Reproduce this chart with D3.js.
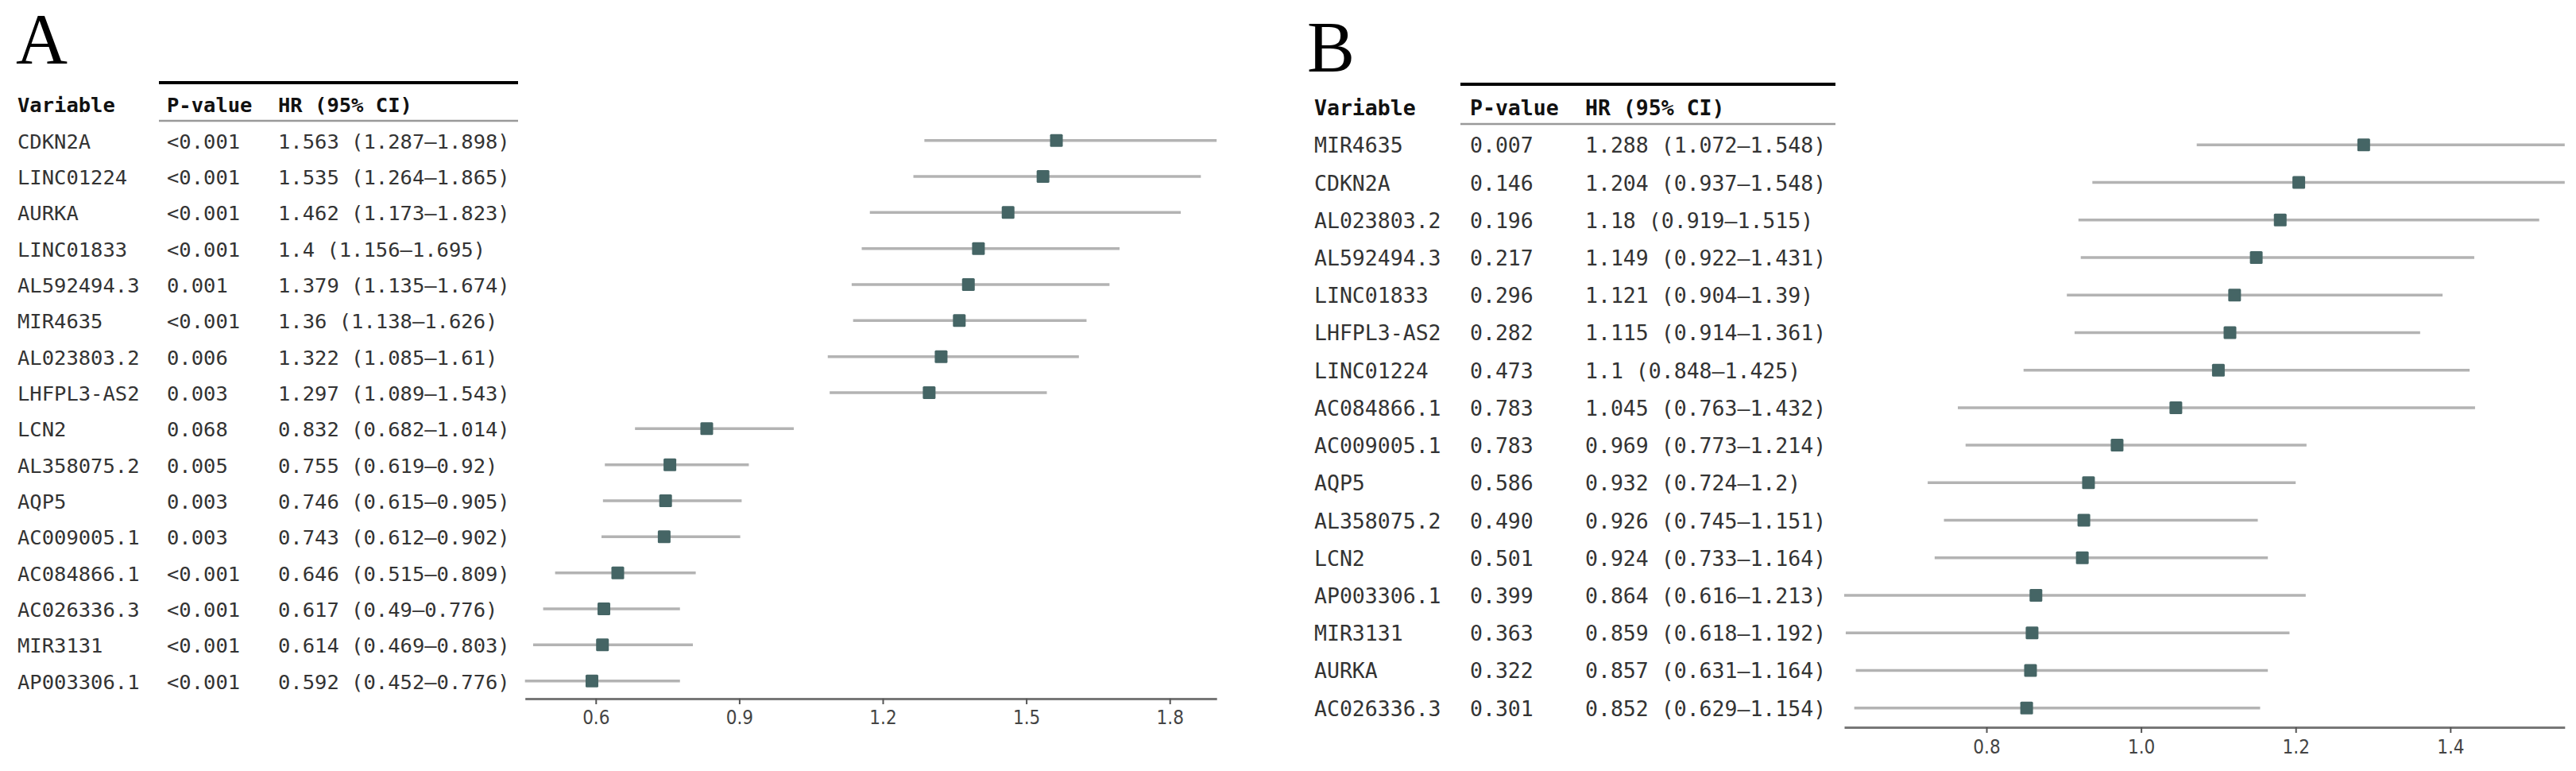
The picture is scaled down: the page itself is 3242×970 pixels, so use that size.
<!DOCTYPE html>
<html>
<head>
<meta charset="utf-8">
<script src="https://cdn.jsdelivr.net/npm/d3@7"></script>
<style>
  body { margin: 0; background: #fff; }
  svg { display: block; }
</style>
</head>
<body>
<div id="chart"></div>
<script>
// panel A data
const varsA = ["CDKN2A", "LINC01224", "AURKA", "LINC01833", "AL592494.3", "MIR4635", "AL023803.2", "LHFPL3-AS2",
  "LCN2", "AL358075.2", "AQP5", "AC009005.1", "AC084866.1", "AC026336.3", "MIR3131", "AP003306.1"];
const pA = ["<0.001", "<0.001", "<0.001", "<0.001", "0.001", "<0.001", "0.006", "0.003",
  "0.068", "0.005", "0.003", "0.003", "<0.001", "<0.001", "<0.001", "<0.001"];
const hrA = [1.563, 1.535, 1.462, 1.4, 1.379, 1.36, 1.322, 1.297, 0.832, 0.755, 0.746, 0.743, 0.646, 0.617, 0.614, 0.592];
const loA = [1.287, 1.264, 1.173, 1.156, 1.135, 1.138, 1.085, 1.089, 0.682, 0.619, 0.615, 0.612, 0.515, 0.49, 0.469, 0.452];
const hiA = [1.898, 1.865, 1.823, 1.695, 1.674, 1.626, 1.61, 1.543, 1.014, 0.92, 0.905, 0.902, 0.809, 0.776, 0.803, 0.776];
const ticksA = [0.6, 0.9, 1.2, 1.5, 1.8];

// panel B data
const varsB = ["MIR4635", "CDKN2A", "AL023803.2", "AL592494.3", "LINC01833", "LHFPL3-AS2", "LINC01224", "AC084866.1",
  "AC009005.1", "AQP5", "AL358075.2", "LCN2", "AP003306.1", "MIR3131", "AURKA", "AC026336.3"];
const pB = ["0.007", "0.146", "0.196", "0.217", "0.296", "0.282", "0.473", "0.783",
  "0.783", "0.586", "0.490", "0.501", "0.399", "0.363", "0.322", "0.301"];
const hrB = [1.288, 1.204, 1.18, 1.149, 1.121, 1.115, 1.1, 1.045, 0.969, 0.932, 0.926, 0.924, 0.864, 0.859, 0.857, 0.852];
const loB = [1.072, 0.937, 0.919, 0.922, 0.904, 0.914, 0.848, 0.763, 0.773, 0.724, 0.745, 0.733, 0.616, 0.618, 0.631, 0.629];
const hiB = [1.548, 1.548, 1.515, 1.431, 1.39, 1.361, 1.425, 1.432, 1.214, 1.2, 1.151, 1.164, 1.213, 1.192, 1.164, 1.154];
const ticksB = [0.8, 1.0, 1.2, 1.4];

const width = 3242, height = 970;
const svg = d3.select("#chart").append("svg")
  .attr("width", width)
  .attr("height", height);

function draw_forest(opts) {
  const { letter, letterX, letterY, vars, pvals, hr, lo, hi, ticks, tickFmt,
    colX, headerY, lineX, thickY, thinY, fontSize, yTop, yBottom, xRange, axisY, tickPad } = opts;

  const g = svg.append("g");
  const rows = vars.map((v, i) => ({ v, p: pvals[i], hr: hr[i], lo: lo[i], hi: hi[i] }));

  const x = d3.scaleLinear()
    .domain([d3.min(lo), d3.max(hi)])
    .range(xRange);
  const y = d3.scalePoint()
    .domain(vars)
    .range([yTop, yBottom]);

  g.append("text")
    .attr("x", letterX)
    .attr("y", letterY)
    .attr("font-family", "Liberation Serif, serif")
    .attr("font-size", 90)
    .attr("fill", "#000")
    .text(letter);

  // header rules
  g.append("line")
    .attr("x1", lineX[0]).attr("x2", lineX[1])
    .attr("y1", thickY).attr("y2", thickY)
    .attr("stroke", "#000")
    .attr("stroke-width", 4);
  g.append("line")
    .attr("x1", lineX[0]).attr("x2", lineX[1])
    .attr("y1", thinY).attr("y2", thinY)
    .attr("stroke", "#999")
    .attr("stroke-width", 2.5);

  const mono = "DejaVu Sans Mono, monospace";
  ["Variable", "P-value", "HR (95% CI)"].forEach((h, k) => {
    g.append("text")
      .attr("x", colX[k])
      .attr("y", headerY)
      .attr("font-family", mono)
      .attr("font-weight", "bold")
      .attr("font-size", fontSize)
      .attr("fill", "#111")
      .text(h);
  });

  const tbl = g.append("g")
    .attr("font-family", mono)
    .attr("font-size", fontSize)
    .attr("fill", "#333");
  tbl.selectAll("text.var").data(rows).join("text")
    .attr("class", "var")
    .attr("x", colX[0])
    .attr("y", d => y(d.v) + 10)
    .text(d => d.v);
  tbl.selectAll("text.p").data(rows).join("text")
    .attr("class", "p")
    .attr("x", colX[1])
    .attr("y", d => y(d.v) + 10)
    .text(d => d.p);
  tbl.selectAll("text.hr").data(rows).join("text")
    .attr("class", "hr")
    .attr("x", colX[2])
    .attr("y", d => y(d.v) + 10)
    .text(d => `${d.hr} (${d.lo}\u2013${d.hi})`);

  // confidence intervals
  g.append("g")
    .selectAll("line")
    .data(rows)
    .join("line")
    .attr("x1", d => x(d.lo))
    .attr("x2", d => x(d.hi))
    .attr("y1", d => y(d.v))
    .attr("y2", d => y(d.v))
    .attr("stroke", "#b3b3b3")
    .attr("stroke-width", 3.5);

  const ms = 16;
  g.append("g")
    .selectAll("rect")
    .data(rows)
    .join("rect")
    .attr("x", d => x(d.hr) - ms / 2)
    .attr("y", d => y(d.v) - ms / 2)
    .attr("width", ms)
    .attr("height", ms)
    .attr("rx", 1.5)
    .attr("fill", "#456565");

  const axis = g.append("g")
    .attr("transform", `translate(0,${axisY})`)
    .call(d3.axisBottom(x).tickValues(ticks).tickFormat(tickFmt).tickSize(7).tickSizeOuter(0).tickPadding(tickPad));
  axis.select(".domain")
    .attr("stroke", "#777")
    .attr("stroke-width", 3);
  axis.selectAll(".tick line")
    .attr("stroke", "#555")
    .attr("stroke-width", 2);
  axis.selectAll(".tick text")
    .attr("font-family", "DejaVu Sans Condensed, DejaVu Sans, sans-serif")
    .attr("font-size", 24)
    .attr("fill", "#444");
}

draw_forest({
  letter: "A", letterX: 20, letterY: 80,
  vars: varsA, pvals: pA, hr: hrA, lo: loA, hi: hiA,
  ticks: ticksA, tickFmt: d3.format(".1f"),
  colX: [22, 210, 350], headerY: 141, lineX: [200, 652], thickY: 104, thinY: 152,
  fontSize: 25.5, yTop: 176.7, yBottom: 856.7,
  xRange: [660.7, 1531.2], axisY: 879, tickPad: 8
});

draw_forest({
  letter: "B", letterX: 1645, letterY: 90,
  vars: varsB, pvals: pB, hr: hrB, lo: loB, hi: hiB,
  ticks: ticksB, tickFmt: d3.format(".1f"),
  colX: [1654, 1850, 1995], headerY: 145, lineX: [1838, 2310], thickY: 106, thinY: 156,
  fontSize: 26.5, yTop: 182.3, yBottom: 890.7,
  xRange: [2321, 3227.8], axisY: 915, tickPad: 9
});
</script>
</body>
</html>
